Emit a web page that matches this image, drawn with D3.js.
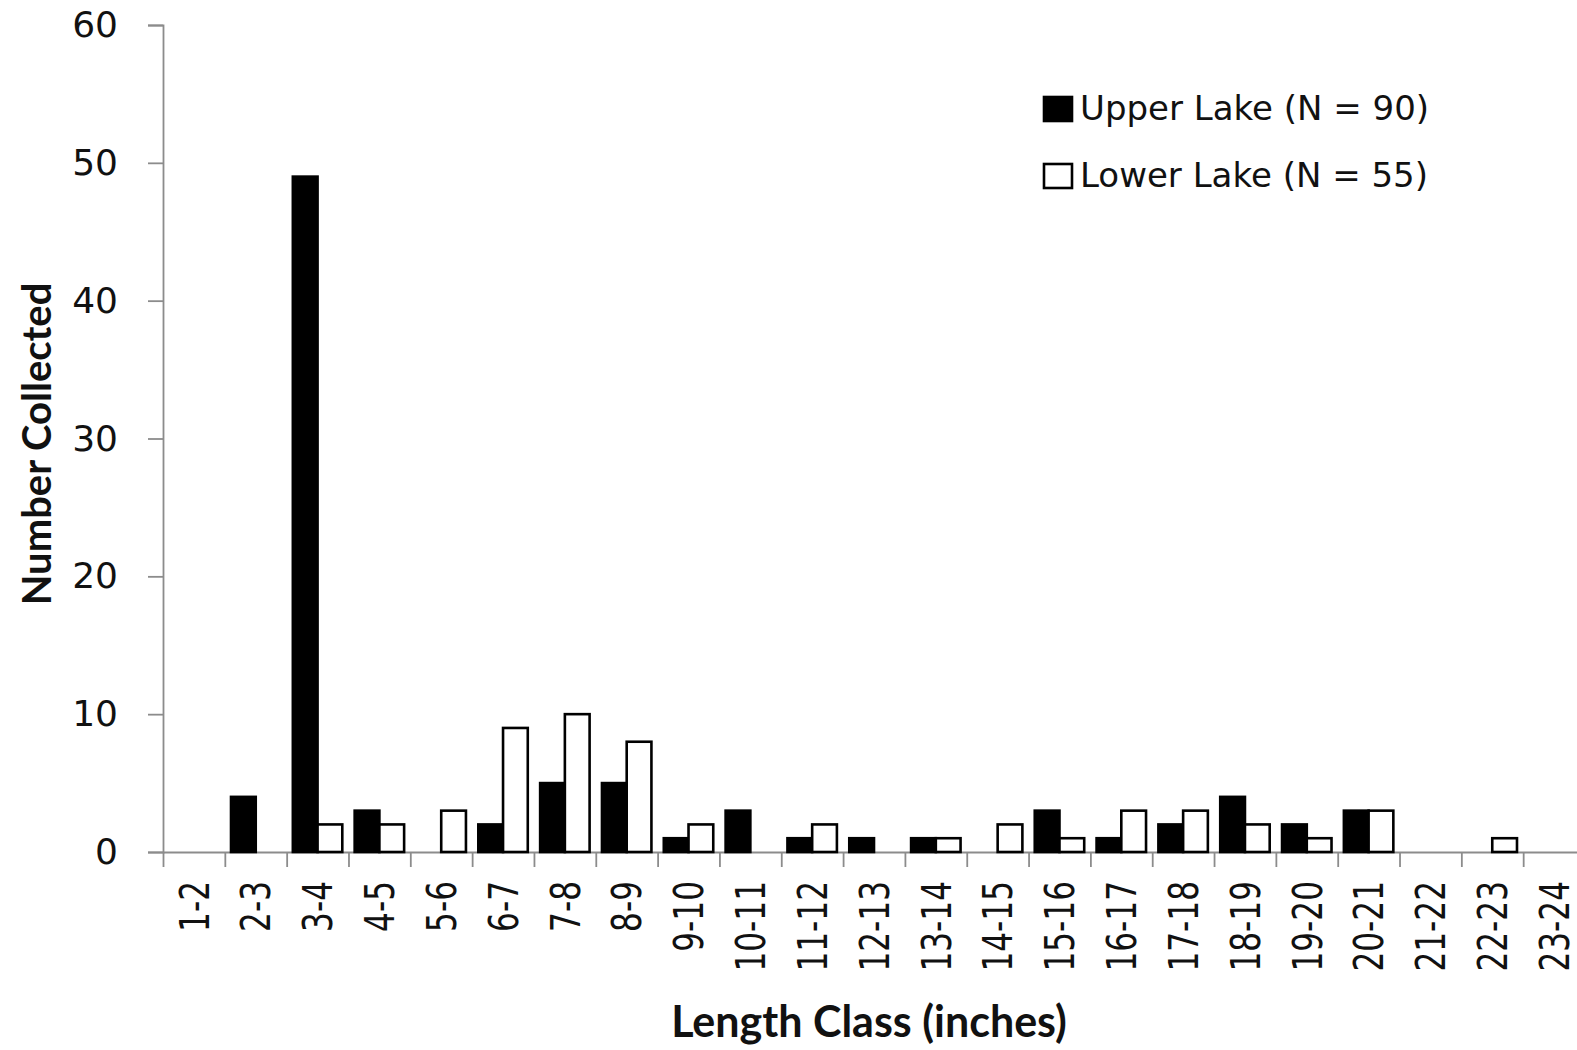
<!DOCTYPE html>
<html>
<head>
    <meta charset="utf-8">
    <title>Length Class Histogram</title>
    <script src="https://d3js.org/d3.v7.min.js"></script>
    <style>
        body {
            margin: 0;
            background-color: #ffffff;
        }
    </style>
</head>
<body>
    <div class="container"></div>
    <script>
        // chart data
        const lengthClasses = ['1-2', '2-3', '3-4', '4-5', '5-6', '6-7', '7-8', '8-9', '9-10', '10-11',
            '11-12', '12-13', '13-14', '14-15', '15-16', '16-17', '17-18', '18-19', '19-20', '20-21',
            '21-22', '22-23', '23-24'];
        const upperLake = [0, 4, 49, 3, 0, 2, 5, 5, 1, 3, 1, 1, 1, 0, 3, 1, 2, 4, 2, 3, 0, 0, 0];
        const lowerLake = [0, 0, 2, 2, 3, 9, 10, 8, 2, 0, 2, 0, 1, 2, 1, 3, 3, 2, 1, 3, 0, 1, 0];
        const seriesNames = ['Upper Lake (N = 90)', 'Lower Lake (N = 55)'];
        const yTicks = [0, 10, 20, 30, 40, 50, 60];

        const width = 1577;
        const height = 1050;
        const margin = { top: 25, right: -8, bottom: 198, left: 163 };
        const axisColor = '#8c8c8c';

        const data = lengthClasses.map((c, i) => ({ cls: c, values: [upperLake[i], lowerLake[i]] }));

        const x = d3.scaleBand()
            .domain(lengthClasses)
            .range([margin.left, width - margin.right])
            .padding(0);

        const xBound = d3.scaleLinear()
            .domain([0, lengthClasses.length])
            .range([margin.left, width - margin.right]);

        const xSeries = d3.scaleBand()
            .domain([0, 1])
            .range([0, x.bandwidth()])
            .paddingInner(0)
            .paddingOuter(0.25);

        const y = d3.scaleLinear()
            .domain([0, 60])
            .range([height - margin.bottom, margin.top]);

        const svg = d3.select('.container').append('svg')
            .attr('width', width)
            .attr('height', height);

        svg.append('rect')
            .attr('width', width)
            .attr('height', height)
            .attr('fill', '#fff');

        // y axis
        const yAxis = svg.append('g')
            .attr('transform', `translate(${margin.left}, 0)`)
            .call(d3.axisLeft(y).tickValues(yTicks).tickSize(15).tickPadding(30));
        yAxis.select('.domain').attr('stroke', axisColor).attr('stroke-width', 1.8);
        yAxis.selectAll('.tick line').attr('stroke', axisColor).attr('stroke-width', 1.8);
        yAxis.selectAll('.tick text')
            .attr('font-family', 'DejaVu Sans, Verdana, sans-serif')
            .attr('font-size', 36)
            .attr('fill', '#111');

        // x axis: boundary ticks
        const xTickAxis = svg.append('g')
            .attr('transform', `translate(0, ${y(0)})`)
            .call(d3.axisBottom(xBound).tickValues(d3.range(0, lengthClasses.length + 1))
                .tickSize(15).tickSizeOuter(0).tickFormat(''));
        xTickAxis.select('.domain').attr('stroke', axisColor).attr('stroke-width', 1.8);
        xTickAxis.selectAll('.tick line').attr('stroke', axisColor).attr('stroke-width', 1.8);

        // x axis: category labels
        const labelScale = 0.76;
        const xLabelAxis = svg.append('g')
            .attr('transform', `translate(0, ${y(0)})`)
            .call(d3.axisBottom(x).tickSize(0));
        xLabelAxis.select('.domain').remove();
        xLabelAxis.selectAll('.tick text')
            .attr('font-family', 'DejaVu Sans, Verdana, sans-serif')
            .attr('font-size', 41)
            .attr('fill', '#111')
            .attr('text-anchor', 'end')
            .attr('transform', `rotate(-90) scale(${labelScale},1)`)
            .attr('x', -29 / labelScale)
            .attr('y', 0)
            .attr('dy', '0.36em');

        // bars
        const groups = svg.append('g')
            .selectAll('g')
            .data(data)
            .join('g')
            .attr('transform', d => `translate(${x(d.cls)}, 0)`);

        groups.selectAll('rect')
            .data(d => d.values.map((v, k) => ({ v, k })).filter(e => e.v > 0))
            .join('rect')
            .attr('x', e => xSeries(e.k))
            .attr('y', e => y(e.v))
            .attr('width', xSeries.bandwidth())
            .attr('height', e => y(0) - y(e.v))
            .attr('fill', e => e.k === 0 ? '#000' : '#fff')
            .attr('stroke', '#000')
            .attr('stroke-width', 2.6);

        // axis titles
        svg.append('text')
            .attr('transform', 'translate(51, 444) rotate(-90)')
            .attr('text-anchor', 'middle')
            .attr('font-family', 'Lato, Open Sans, sans-serif')
            .attr('font-weight', 'bold')
            .attr('font-size', 40)
            .attr('fill', '#111')
            .text('Number Collected');

        svg.append('text')
            .attr('x', 869)
            .attr('y', 1037)
            .attr('text-anchor', 'middle')
            .attr('font-family', 'Lato, Open Sans, sans-serif')
            .attr('font-weight', 'bold')
            .attr('font-size', 43)
            .attr('fill', '#111')
            .text('Length Class (inches)');

        // legend
        const legend = svg.append('g')
            .selectAll('g')
            .data(seriesNames)
            .join('g')
            .attr('transform', (d, i) => `translate(1044, ${97 + i * 67})`);

        legend.append('rect')
            .attr('width', 28)
            .attr('height', 24)
            .attr('fill', (d, i) => i === 0 ? '#000' : '#fff')
            .attr('stroke', '#000')
            .attr('stroke-width', 2.6);

        legend.append('text')
            .attr('x', 36)
            .attr('y', 23)
            .attr('font-family', 'DejaVu Sans, Verdana, sans-serif')
            .attr('font-size', 34)
            .attr('fill', '#111')
            .text(d => d);
    </script>
</body>
</html>
